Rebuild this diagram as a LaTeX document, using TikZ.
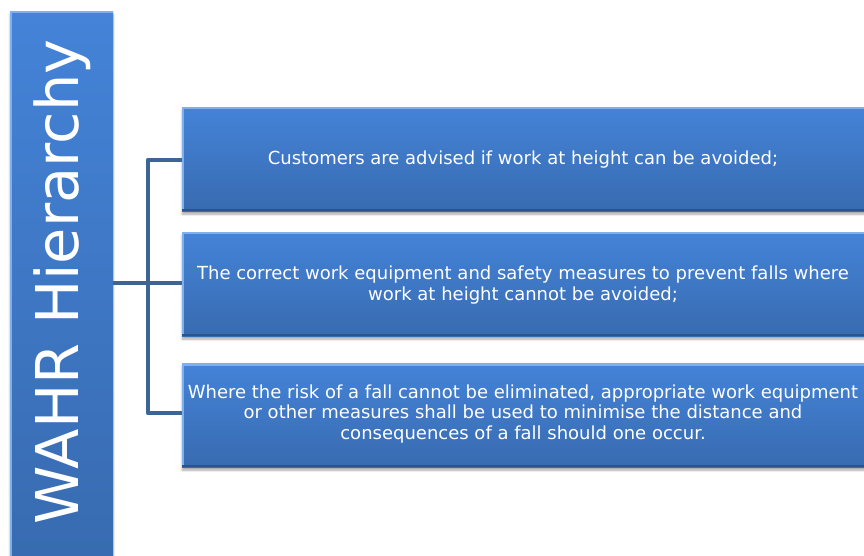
\documentclass[tikz,border=0pt]{standalone}
\usepackage{fontspec}
\setmainfont{DejaVu Sans}
\usetikzlibrary{shadows.blur}
\definecolor{boxtop}{HTML}{4483D8}
\definecolor{boxbot}{HTML}{386BB0}
\definecolor{edgelt}{HTML}{7FB0EE}
\definecolor{edgedk}{HTML}{2C5488}
\definecolor{linkc}{HTML}{3C6596}
\tikzset{
  blbox/.style={rectangle, inner sep=0pt, top color=boxtop, bottom color=boxbot,
    blur shadow={shadow xshift=0pt, shadow yshift=-3pt, shadow blur steps=6, shadow opacity=35}},
  btext/.style={text=white, align=center, font=\fontsize{18}{20.8}\selectfont},
  link/.style={draw=linkc, line width=4.5pt, line join=round}
}
\begin{document}
\begin{tikzpicture}[x=1pt,y=1pt]
\useasboundingbox (0,0) rectangle (864,555);
% left title bar
\node[blbox, minimum width=103, minimum height=550, anchor=north west] (bar) at (10,544) {};
% boxes
\node[blbox, minimum width=700, minimum height=104, anchor=north west] (b1) at (182,448) {};
\node[blbox, minimum width=700, minimum height=104, anchor=north west] (b2) at (182,323) {};
\node[blbox, minimum width=700, minimum height=104, anchor=north west] (b3) at (182,192) {};
% bevel edges
\foreach \b in {bar,b1,b2,b3}{
  \draw[edgelt, line width=2.5pt] ([yshift=-1.25pt]\b.north west) -- ([yshift=-1.25pt]\b.north east);
  \draw[edgelt, line width=2pt] ([xshift=1pt]\b.north west) -- ([xshift=1pt]\b.south west);
  \draw[edgedk, line width=2.5pt] ([yshift=1.25pt]\b.south west) -- ([yshift=1.25pt]\b.south east);
}
\node[rotate=90, text=white, font=\fontsize{59}{66}\selectfont] (title) at (62,273) {WAHR Hierarchy};
% texts
\node[btext] (t1) at (523,395) {Customers are advised if work at height can be avoided;};
\node[btext] (t2) at (523,270) {The correct work equipment and safety measures to prevent falls where\\work at height cannot be avoided;};
\node[btext] (t3) at (523,141) {Where the risk of a fall cannot be eliminated, appropriate work equipment\\or other measures shall be used to minimise the distance and\\consequences of a fall should one occur.};
% connectors
\coordinate (j) at (148,272);
\draw[link] (bar.east |- j) -- (j);
\draw[link] (b1.west |- 0,395) -| (j) |- (b3.west |- 0,142);
\draw[link] (j) -- (b2.west |- j);
\end{tikzpicture}
\end{document}
